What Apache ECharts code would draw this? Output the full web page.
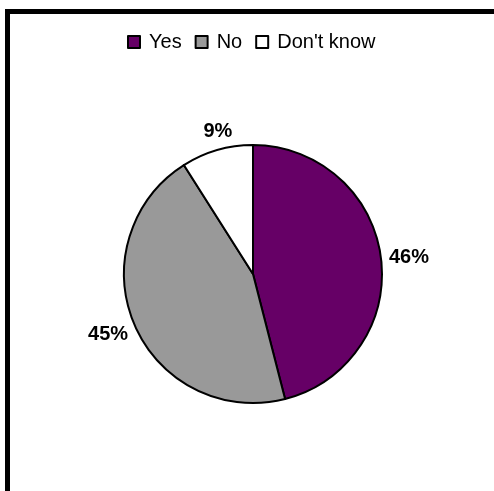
<!DOCTYPE html>
<html>
<head>
<meta charset="utf-8">
<script src="https://cdn.jsdelivr.net/npm/echarts@6/dist/echarts.min.js"></script>
<style>
  html, body { margin: 0; padding: 0; background: #fff; }
  #chart { width: 494px; height: 491px; }
</style>
</head>
<body>
<div id="chart"></div>
<script>
// Survey answers
const categories = ['Yes', 'No', "Don't know"];
const shares = [46, 45, 9];
const sliceColors = ['#660066', '#999999', '#ffffff'];

// Small nudges for the outside percentage labels, by slice index
const labelNudge = [[-3, 0], [4, 7], [22, -13]];

const chart = echarts.init(document.getElementById('chart'), null, { renderer: 'canvas' });

const option = {
  animation: false,
  backgroundColor: '#ffffff',
  graphic: [{
    type: 'rect',
    silent: true,
    shape: { x: 7.5, y: 11.5, width: 700, height: 700 },
    style: { fill: 'none', stroke: '#000000', lineWidth: 5 }
  }],
  legend: {
    data: categories,
    left: 122,
    top: 27,
    icon: 'rect',
    itemWidth: 12,
    itemHeight: 12,
    itemGap: 13,
    itemStyle: { borderColor: '#000000', borderWidth: 2 },
    textStyle: { fontFamily: 'Liberation Sans, Arial, sans-serif', fontSize: 20, color: '#000000', padding: [0, 0, 0, 4] }
  },
  series: [{
    type: 'pie',
    center: [253, 274],
    radius: 129,
    startAngle: 90,
    clockwise: true,
    label: {
      show: true,
      position: 'outside',
      formatter: '{c}%',
      fontFamily: 'Liberation Sans, Arial, sans-serif',
      fontSize: 20,
      fontWeight: 'bold',
      color: '#000000'
    },
    labelLine: { show: false, length: 6, length2: 0 },
    labelLayout: function (params) {
      const n = labelNudge[params.dataIndex];
      return { dx: n[0], dy: n[1] };
    },
    itemStyle: { borderColor: '#000000', borderWidth: 2 },
    emphasis: { disabled: true },
    data: categories.map((name, i) => ({
      name: name,
      value: shares[i],
      itemStyle: { color: sliceColors[i] }
    }))
  }]
};

chart.setOption(option);
</script>
</body>
</html>
